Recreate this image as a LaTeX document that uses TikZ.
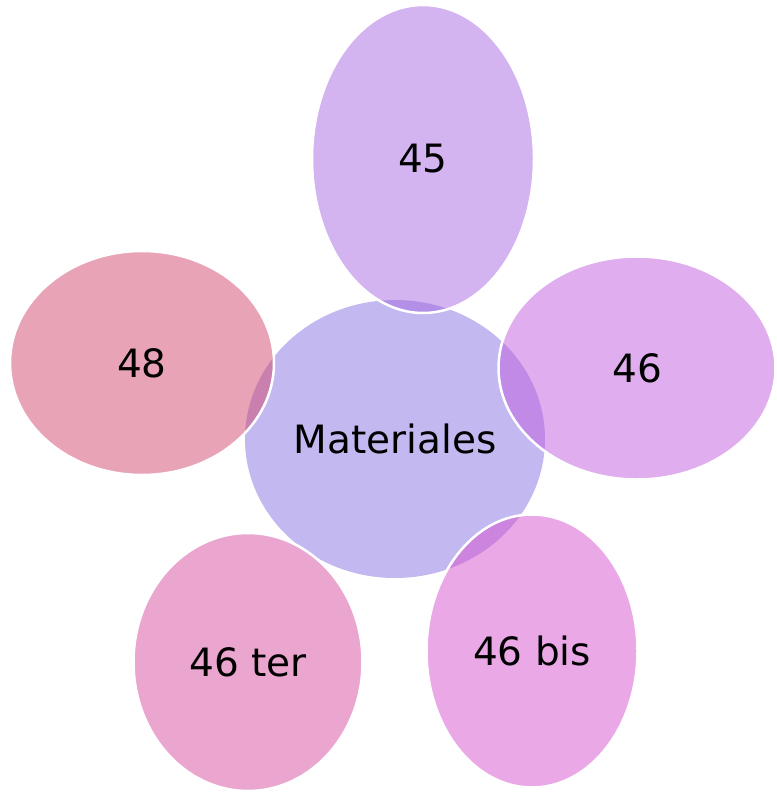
\documentclass[tikz,border=0pt]{standalone}
\usepackage{fontspec}
\setmainfont{DejaVu Sans}
\usetikzlibrary{shapes.geometric}
\definecolor{cCenter}{RGB}{195,185,240}
\definecolor{c45}{RGB}{167,103,225}
\definecolor{c46}{RGB}{193,93,221}
\definecolor{c46bis}{RGB}{213,81,207}
\definecolor{c46ter}{RGB}{215,77,161}
\definecolor{c48}{RGB}{209,73,109}
\tikzset{
  blob/.style={ellipse, inner sep=0pt, font=\fontsize{39}{46}\selectfont, text=black},
  outer/.style={blob, draw=white, line width=2.5pt, fill opacity=0.5, text opacity=1, draw opacity=1},
}
\begin{document}
\begin{tikzpicture}[x=1pt,y=-1pt]
\useasboundingbox (0,0) rectangle (776,792);
\node[blob, fill=cCenter, minimum width=300pt, minimum height=278pt] (mat) at (395,439) {Materiales};
\node[outer, fill=c45, minimum width=222pt, minimum height=308pt] (n45) at (423,159) {45};
\node[outer, fill=c46, minimum width=277pt, minimum height=223pt] (n46) at (637,368) {46};
\node[outer, fill=c46bis, minimum width=211pt, minimum height=273pt] (n46bis) at (532,651) {46 bis};
\node[outer, fill=c46ter, minimum width=229pt, minimum height=258pt] (n46ter) at (248,662) {46 ter};
\node[outer, fill=c48, minimum width=264pt, minimum height=224pt] (n48) at (142,363) {48};
\end{tikzpicture}
\end{document}
